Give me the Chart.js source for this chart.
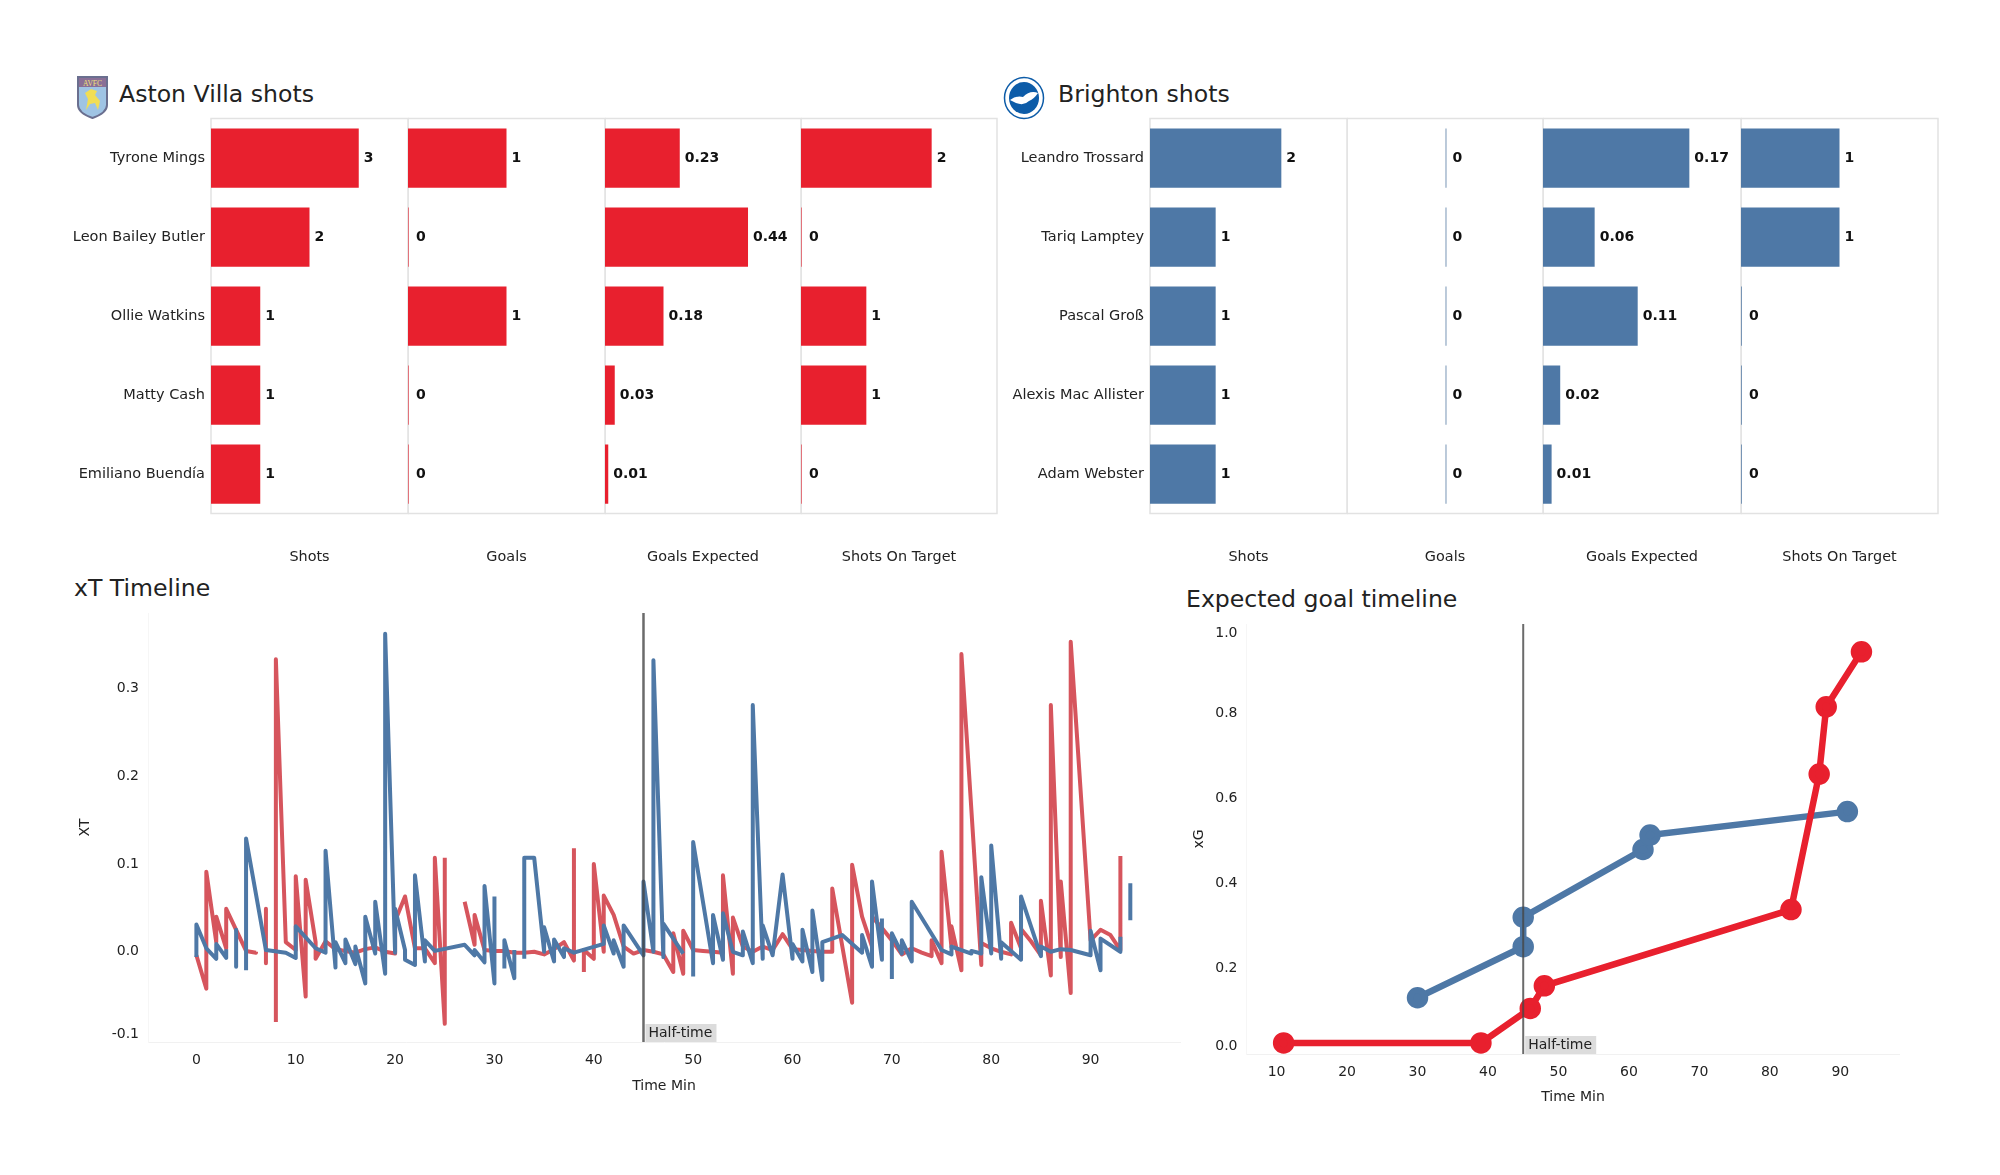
<!DOCTYPE html>
<html>
<head>
<meta charset="utf-8">
<script src="https://cdn.jsdelivr.net/npm/chart.js@4"></script>
<style>
  body { margin: 0; background: #fff; }
  #page { position: relative; width: 2000px; height: 1175px; overflow: hidden; font-family: "DejaVu Sans"; color: #222; }
  canvas, svg, .head { position: absolute; }
  .head { font-size: 23.6px; line-height: 30px; white-space: nowrap; }
</style>
</head>
<body>
<div id="page">
  <svg style="left:76px;top:75px" width="33" height="44" viewBox="0 0 33 44">
    <path d="M2 2 H31 V30 Q31 38 16.5 43 Q2 38 2 30 Z" fill="#9fc4e4" stroke="#6a6f8f" stroke-width="2"/>
    <rect x="3" y="3" width="27" height="9" fill="#8a6f96"/>
    <text x="16.5" y="10.5" font-size="7.5" font-family="Liberation Serif" fill="#f2e27a" text-anchor="middle">AVFC</text>
    <path d="M10 35 L12 24 L9 18 L15 14 L21 16 L19 20 L24 26 L22 35 L19 28 L14 29 Z" fill="#f1de55"/>
  </svg>
  <div class="head" style="left:119px;top:79px">Aston Villa shots</div>
  <svg style="left:1003px;top:76px" width="42" height="44" viewBox="0 0 42 44">
    <ellipse cx="21" cy="22" rx="19.5" ry="20.5" fill="#fff" stroke="#0d5ca8" stroke-width="1.5"/>
    <ellipse cx="21" cy="22" rx="15" ry="16" fill="#0d5ca8"/>
    <path d="M7 24 Q14 19 20 21 Q27 14 35 17 Q31 23 26 25 Q21 30 13 27 Z" fill="#fff"/>
  </svg>
  <div class="head" style="left:1058px;top:79px">Brighton shots</div>
  <div class="head" style="left:74px;top:573px">xT Timeline</div>
  <div class="head" style="left:1186px;top:584px">Expected goal timeline</div>
</div>

<script>
const villaPlayers = ['Tyrone Mings', 'Leon Bailey Butler', 'Ollie Watkins', 'Matty Cash', 'Emiliano Buendía'];
const villaShots = [3, 2, 1, 1, 1];
const villaGoals = [1, 0, 1, 0, 0];
const villaXg = [0.23, 0.44, 0.18, 0.03, 0.01];
const villaOnTarget = [2, 0, 1, 1, 0];

const brightonPlayers = ['Leandro Trossard', 'Tariq Lamptey', 'Pascal Groß', 'Alexis Mac Allister', 'Adam Webster'];
const brightonShots = [2, 1, 1, 1, 1];
const brightonGoals = [0, 0, 0, 0, 0];
const brightonXg = [0.17, 0.06, 0.11, 0.02, 0.01];
const brightonOnTarget = [1, 1, 0, 0, 0];

const halfTime = 45;

// xT per event, null = break in the line
const villaXtMin = [0,1,1,2,2,3,3,4,5,6,6,6, 7,7,7, 8,8,9,10,10,11,11,12,12,13,14,15,16,17,18,19,20,20,21,22,23,24,24,25,25,25,
  27,28,28,29,30,31,32,33,34,35,36,37,38,38,38, 39,39,40,40,41,41,42,43,44,45,46,47,48,48,49,49,50,51,52,53,53,54,54,55,56,57,58,59,60,61,62,63,64,64,66,66,67,68,68,69,70,71,72,73,74,74,75,75,76,76,77,77,79,79,80,81,82,82,83,83,84,85,85,86,86,87,87,88,88,90,91,92,93,93];
const villaXt = [-.004,-.042,.091,.011,.04,.004,.049,.025,.001,-.001,0,null, .049,-.013,null, -.08,.333,.011,.002,.086,-.051,.082,.011,-.008,.012,.003,.001,-.001,.003,.005,0,-.002,.035,.063,.004,.004,-.013,.107,-.082,.107,null,
  .057,.008,.042,.002,.001,.001,-.001,-.001,0,-.003,.003,.011,-.01,.118,null, -.023,.002,-.008,.1,0,.064,.042,.006,-.002,.002,0,-.003,-.023,.021,-.025,.024,.002,.001,0,-.001,.087,-.025,.039,.006,0,.006,.002,.02,.003,.002,.001,0,0,.072,-.058,.099,.04,.006,.04,.027,.013,-.003,.004,-.001,-.005,.013,-.013,.114,.005,.029,-.021,.339,-.015,.01,.004,0,-.003,.033,.004,.026,.012,-.004,.058,-.027,.281,-.006,.08,-.047,.353,.013,.025,.019,.002,.109];

const brightonXtMin = [0,0,1,2,2,3,3,3, 4,4,4, 5,5,7,9,10,10,12,13,13,14,14,15,15,16,16,17,17,18,18,19,19,20,20,21,21,22,22,23,23,24,27,28,28,29,29,30,30,30, 31,31,32,32,32,
  33,33,34,35,35,36,36,37,37,38,41,41,42,42,43,43,45,45,46,46,47,47,49,49, 50,50,52,52,53,53,54,55,55,56,56,57,57,58,59,60,60,61,61,62,62,63,63,65,67,67,68,68,69,69,69, 70,70,71,71,72,72,75,76,76,78,78,79,79,80,80,81,81,83,83,85,85,86,87,88,90,90,91,91,93,93,93, 94,94];
const brightonXt = [-.006,.031,.004,-.008,.009,-.007,.003,null, .025,-.017,null, -.021,.129,.002,-.001,-.007,.029,.004,-.001,.115,-.018,.011,-.013,.014,-.014,.006,-.036,.04,-.002,.057,-.025,.362,-.001,.049,.002,-.009,-.015,.087,-.011,.013,.001,.008,-.004,.002,-.012,.075,-.036,.063,null, -.019,.013,-.03,.002,null,
  -.008,.107,.107,0,.028,-.011,.014,-.006,.004,-.001,.009,.03,-.002,.013,-.017,.03,-.004,.08,0,.332,-.006,.032,-.002,null, -.028,.125,-.013,.042,-.009,.044,0,-.004,.023,-.013,.281,-.008,.03,-.004,.088,-.008,.009,-.011,.025,-.023,.047,-.032,.011,.019,-.001,.019,-.017,.08,-.009,.038,null, -.031,.021,-.002,.013,-.011,.057,.002,-.003,.006,-.002,.001,-.002,.085,-.002,.121,-.008,.011,-.009,.063,-.005,.006,0,.003,.002,-.004,.024,-.021,.015,0,.017,null, .036,.078];

const xtMinuteTicks = [0, 10, 20, 30, 40, 50, 60, 70, 80, 90];
const xtValueTicks = [-0.0936, 0, 0.1, 0.2, 0.3];   // the bottom label sits above its true place in the picture
const xtValueLabels = ['-0.1', '0.0', '0.1', '0.2', '0.3'];

// cumulative xG
const villaXgMin = [11, 39, 46, 48, 83, 87, 88, 93];
const villaXgSum = [0.026, 0.026, 0.107, 0.16, 0.339, 0.657, 0.815, 0.944];
const brightonXgMin = [30, 45, 45, 62, 63, 91];
const brightonXgSum = [0.132, 0.252, 0.321, 0.48, 0.514, 0.569];

const xgMinuteTicks = [10, 20, 30, 40, 50, 60, 70, 80, 90];
const xgValueTicks = [0.019, 0.2, 0.4, 0.6, 0.8, 0.988];   // end labels are pulled inward in the picture
const xgValueLabels = ['0.0', '0.2', '0.4', '0.6', '0.8', '1.0'];

const RED = '#e8202e', BLUE = '#4e78a6', RED_LINE = '#d6555d';
const FRAME = '#e2e2e2', TEXT = '#222';

Chart.defaults.font.family = '"DejaVu Sans"';
Chart.defaults.font.size = 14;
Chart.defaults.color = TEXT;
Chart.defaults.devicePixelRatio = 1;
Chart.defaults.animation = false;
Chart.defaults.responsive = false;

function addCanvas(left, top, width, height) {
  const c = document.createElement('canvas');
  c.width = width;
  c.height = height;
  c.style.left = left + 'px';
  c.style.top = top + 'px';
  document.getElementById('page').appendChild(c);
  return c.getContext('2d');
}

// panels have to land on exact pixels, so axis boxes get fixed sizes and no auto padding
function fixAxis(scale, width, height) {
  if (width !== null) scale.width = width;
  if (height !== null) scale.height = height;
  scale.paddingTop = scale.paddingBottom = scale.paddingLeft = scale.paddingRight = 0;
}

const frame = {
  id: 'frame',
  beforeDatasetsDraw(chart) {
    const { ctx, chartArea: a } = chart;
    ctx.save();
    ctx.strokeStyle = FRAME;
    ctx.lineWidth = 1.5;
    ctx.strokeRect(a.left, a.top, a.right - a.left, a.bottom - a.top);
    ctx.restore();
  }
};

const barValues = {
  id: 'barValues',
  afterDatasetsDraw(chart) {
    const { ctx } = chart;
    const ds = chart.data.datasets[0];
    ctx.save();
    ctx.font = 'bold 14px "DejaVu Sans"';
    ctx.fillStyle = '#111';
    ctx.textBaseline = 'middle';
    chart.getDatasetMeta(0).data.forEach((bar, i) => {
      ctx.fillText(ds.labelText[i], bar.x + (ds.data[i] === 0 ? 7 : 5), bar.y);
    });
    ctx.restore();
  }
};

const halfTimeLabel = {
  id: 'halfTimeLabel',
  afterDraw(chart) {
    const { ctx, scales, chartArea } = chart;
    const x = scales.x.getPixelForValue(halfTime) + 2;
    const boxHeight = 18, boxTop = chartArea.bottom - boxHeight;
    ctx.save();
    ctx.fillStyle = '#dcdcdc';
    ctx.fillRect(x, boxTop, 71, boxHeight);
    ctx.fillStyle = TEXT;
    ctx.font = '14px "DejaVu Sans"';
    ctx.textBaseline = 'middle';
    ctx.fillText('Half-time', x + 3, boxTop + boxHeight / 2);
    ctx.restore();
  }
};

function barPanel(plotLeft, plotWidth, players, showNames, title, values, xMin, xMax, color, soft, digits) {
  const canvasLeft = showNames ? plotLeft - 145 : plotLeft;
  const canvasTop = 112, plotTop = 118.5, plotBottom = 513.5, canvasBottom = 566;
  new Chart(addCanvas(canvasLeft, canvasTop, plotLeft - canvasLeft + plotWidth + 2, canvasBottom - canvasTop), {
    type: 'bar',
    data: {
      labels: players,
      datasets: [{
        data: values,
        labelText: values.map(v => v.toFixed(digits)),
        backgroundColor: c => c.raw === 0 ? soft : color,
        minBarLength: 1,
        barPercentage: 0.75,
        categoryPercentage: 1
      }]
    },
    options: {
      indexAxis: 'y',
      layout: { autoPadding: false, padding: { top: plotTop - canvasTop, right: 2 } },
      plugins: { legend: { display: false }, tooltip: { enabled: false } },
      scales: {
        x: {
          min: xMin,
          max: xMax,
          grid: { display: false },
          border: { display: false },
          ticks: { display: false },
          title: { display: true, text: title, font: { size: 14.4 }, padding: 0 },
          afterFit: s => fixAxis(s, null, canvasBottom - plotBottom)
        },
        y: {
          display: showNames,
          grid: { display: false, drawTicks: false },
          border: { display: false },
          ticks: { padding: 6, color: TEXT, autoSkip: false, font: { size: 14.5 } },
          afterFit: s => fixAxis(s, plotLeft - canvasLeft, null)
        }
      }
    },
    plugins: [frame, barValues]
  });
}

// Aston Villa panels
barPanel(211, 197, villaPlayers, true, 'Shots', villaShots, 0, 4, RED, '#e2737b', 0);
barPanel(408, 197, villaPlayers, false, 'Goals', villaGoals, 0, 2, RED, '#e2737b', 0);
barPanel(605, 196, villaPlayers, false, 'Goals Expected', villaXg, 0, 0.603, RED, '#e2737b', 2);
barPanel(801, 196, villaPlayers, false, 'Shots On Target', villaOnTarget, 0, 3, RED, '#e2737b', 0);

// Brighton panels
barPanel(1150, 197, brightonPlayers, true, 'Shots', brightonShots, 0, 3, BLUE, '#7895b5', 0);
barPanel(1347, 196, brightonPlayers, false, 'Goals', brightonGoals, -1, 0.98, BLUE, '#7895b5', 0);
barPanel(1543, 198, brightonPlayers, false, 'Goals Expected', brightonXg, 0, 0.23, BLUE, '#7895b5', 2);
barPanel(1741, 197, brightonPlayers, false, 'Shots On Target', brightonOnTarget, 0, 2, BLUE, '#7895b5', 0);

function points(xs, ys) {
  return xs.map((x, i) => ({ x: x, y: ys[i] }));
}

function timeline(box, plot, xRange, yRange, xTicks, yTicks, yLabels, yTitle, yTitlePad, tickPad, datasets) {
  new Chart(addCanvas(box.left, box.top, box.width, box.height), {
    type: 'line',
    data: { datasets: datasets },
    options: {
      layout: { autoPadding: false, padding: { top: plot.top - box.top, right: box.left + box.width - plot.right } },
      plugins: { legend: { display: false }, tooltip: { enabled: false } },
      scales: {
        x: {
          type: 'linear',
          min: xRange[0],
          max: xRange[1],
          grid: { display: false, drawTicks: false },
          border: { color: '#f1f1f1' },
          afterBuildTicks: s => { s.ticks = xTicks.map(v => ({ value: v })); },
          ticks: { padding: tickPad, maxRotation: 0, autoSkip: false, callback: v => String(v) },
          title: { display: true, text: 'Time Min', padding: 0 },
          afterFit: s => fixAxis(s, null, box.top + box.height - plot.bottom)
        },
        y: {
          min: yRange[0],
          max: yRange[1],
          grid: { display: false, drawTicks: false },
          border: { color: '#f6f6f6' },
          afterBuildTicks: s => { s.ticks = yTicks.map(v => ({ value: v })); },
          ticks: { padding: 9, autoSkip: false, callback: (v, i) => yLabels[i] },
          title: { display: true, text: yTitle, padding: { top: yTitlePad, bottom: 0 } },
          afterFit: s => fixAxis(s, plot.left - box.left, null)
        }
      }
    },
    plugins: [halfTimeLabel]
  });
}

function halfTimeLine(yRange, width) {
  return {
    data: [{ x: halfTime, y: yRange[0] }, { x: halfTime, y: yRange[1] }],
    borderColor: 'rgba(70,70,70,0.8)',
    borderWidth: width,
    pointRadius: 0,
    order: 0
  };
}

// xT timeline
const xtY = [-0.1027, 0.3857];
timeline(
  { left: 60, top: 606, width: 1130, height: 489 },
  { left: 148, right: 1180, top: 613, bottom: 1042 },
  [-4.87, 99], xtY, xtMinuteTicks, xtValueTicks, xtValueLabels, 'XT', 17, 10,
  [
    halfTimeLine(xtY, 2.5),
    { data: points(brightonXtMin, brightonXt), borderColor: BLUE, borderWidth: 4, pointRadius: 0, borderJoinStyle: 'round', order: 1 },
    { data: points(villaXtMin, villaXt), borderColor: RED_LINE, borderWidth: 4, pointRadius: 0, borderJoinStyle: 'round', order: 2 }
  ]
);

// expected goal timeline
const xgY = [0, 1.0094];
timeline(
  { left: 1190, top: 618, width: 720, height: 488 },
  { left: 1246.5, right: 1899.5, top: 624, bottom: 1054 },
  [5.73, 98.4], xgY, xgMinuteTicks, xgValueTicks, xgValueLabels, 'xG', 1, 10,
  [
    halfTimeLine(xgY, 2),
    { data: points(villaXgMin, villaXgSum), borderColor: RED, backgroundColor: RED, borderWidth: 6.5, pointRadius: 7.5, order: 1 },
    { data: points(brightonXgMin, brightonXgSum), borderColor: BLUE, backgroundColor: BLUE, borderWidth: 6.5, pointRadius: 7.5, order: 2 }
  ]
);
</script>
</body>
</html>
